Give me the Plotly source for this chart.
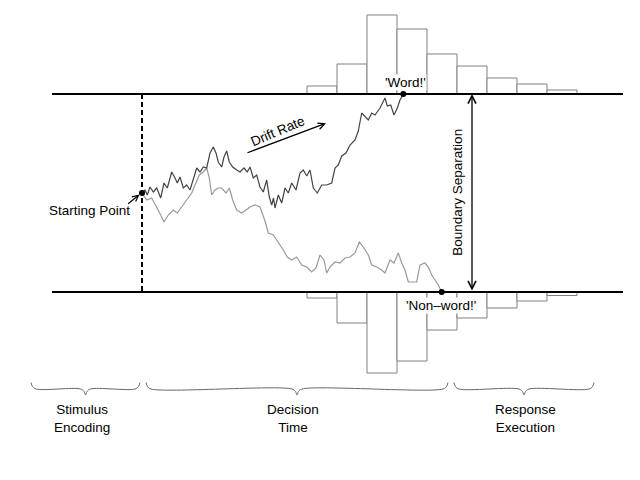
import plotly.graph_objects as go

# diffusion model sketch: time runs left to right, evidence up/down
# evidence units: upper boundary +99, lower boundary -99, start at 0
upper_bound = 99
lower_bound = -99
non_decision_t = 142
bound_x = [52, 623]

# sample path that ends at the upper ('Word!') boundary
word_t = [142, 145, 147.3, 150, 153.3, 156.7, 160.7, 164, 167.3, 171.7, 175, 177.3,
          180, 183.3, 186.7, 190, 194, 196.7, 200, 203.3, 206.7, 210, 213.3, 216,
          218.3, 221.7, 224, 226.7, 229.3, 232.7, 236.7, 240, 244, 247.3, 250, 253.3,
          256.7, 260, 263.3, 266.7, 269.3, 271.7, 273.5, 275, 278.3, 281.7, 285, 288.3,
          291.7, 296, 300, 303.3, 306.7, 310, 313.3, 317.3, 321.7, 326.7, 331.7, 335,
          338.3, 341.7, 346, 350, 355, 358.3, 361.7, 365, 368.3, 371.7, 375, 380, 385,
          387.3, 390.7, 394, 397.3, 400, 403.3]
word_ev = [0, 3, -2, 6, 1, 5, -5, 10, 5, 21, 15, 10,
           16, 5, 8, 3, 16, 25, 21, 26, 25, 40, 46, 40,
           31, 26, 36, 42, 31, 26, 23, 21, 25, 21, 26, 15,
           18, 6, 1, 13, -4, -12, -5, -15, -2, -10, 5, 0,
           10, 3, 20, 23, 17, 23, 5, 0, 8, 8, 10, 25,
           28, 37, 40, 48, 53, 62, 80, 77, 73, 80, 78, 85, 95,
           87, 88, 78, 85, 93, 99]

# sample path that ends at the lower ('Non-word!') boundary
nonword_t = [142, 146.7, 151.7, 156.7, 160.7, 164, 168.3, 173.3, 177.3, 181.7, 186.7,
             191.7, 195, 199.3, 203.3, 206.7, 209.3, 211.7, 215, 218.3, 221.7, 226,
             229.3, 232.7, 236.7, 241.7, 246, 250, 255, 260, 265, 268.3, 273.3, 278.3,
             283.3, 287.3, 291.7, 296.7, 301.7, 306.7, 311.7, 316, 320, 324, 326.7, 330,
             335, 340, 345, 350, 355, 359.3, 363.3, 368.3, 371.7, 376.7, 381.7, 385,
             390, 394, 398.3, 401.7, 405, 408.3, 413.3, 416.7, 420, 425, 428.3, 431.7,
             435, 438.3, 441.7]
nonword_ev = [0, -7, -5, -14, -22, -29, -22, -17, -20, -14, -7,
              0, 8, 18, 21, 25, 15, -2, 3, 5, 5, 0,
              5, -7, -17, -20, -17, -14, -12, -14, -28, -40, -42, -49,
              -57, -64, -67, -64, -72, -74, -79, -75, -62, -67, -80, -74,
              -69, -70, -65, -64, -60, -49, -54, -62, -72, -74, -77, -80,
              -67, -70, -60, -70, -77, -89, -89, -89, -72, -70, -74, -82,
              -87, -92, -99]

# RT histograms
bin_edges = [307, 337, 367, 397, 427, 457, 487, 517, 547, 577]
word_counts = [8, 30, 79, 65, 40, 28, 16, 10, 4]
nonword_counts = [6, 31, 81, 69, 38, 26, 16, 9, 3.5]

# phases under the diagram: (start, end, label)
phases = [(31, 140, "Stimulus<br>Encoding"),
          (146, 448, "Decision<br>Time"),
          (454, 594, "Response<br>Execution")]
phase_label_x = [82, 293, 525]

bin_centers = [(a + b) / 2 for a, b in zip(bin_edges[:-1], bin_edges[1:])]
bin_width = bin_edges[1] - bin_edges[0]

fig = go.Figure()

hist_style = dict(marker=dict(color="white", line=dict(color="#808080", width=1)),
                  width=bin_width, showlegend=False, hoverinfo="skip")
fig.add_trace(go.Bar(x=bin_centers, y=word_counts, base=upper_bound, **hist_style))
fig.add_trace(go.Bar(x=bin_centers, y=[-c for c in nonword_counts], base=lower_bound, **hist_style))

# boundaries
for b in (upper_bound, lower_bound):
    fig.add_trace(go.Scatter(x=bound_x, y=[b, b], mode="lines",
                             line=dict(color="black", width=2), showlegend=False))

# start of the decision process
fig.add_trace(go.Scatter(x=[non_decision_t, non_decision_t], y=[upper_bound, lower_bound],
                         mode="lines", line=dict(color="black", width=2, dash="5px,3px"),
                         showlegend=False))

fig.add_trace(go.Scatter(x=nonword_t, y=nonword_ev, mode="lines",
                         line=dict(color="#999999", width=1.2), showlegend=False))
fig.add_trace(go.Scatter(x=word_t, y=word_ev, mode="lines",
                         line=dict(color="#444444", width=1.2), showlegend=False))

fig.add_trace(go.Scatter(x=[word_t[0], word_t[-1], nonword_t[-1]],
                         y=[word_ev[0], word_ev[-1], nonword_ev[-1]],
                         mode="markers", marker=dict(color="black", size=6),
                         showlegend=False))

# curly braces for the phases
brace_top, brace_flat, brace_tip = -189.5, -196, -202
for x0, x1, label in phases:
    xm = (x0 + x1) / 2
    bx = [x0, x0 + 1.5, x0 + 5, xm - 5, xm - 1.5, xm, xm + 1.5, xm + 5, x1 - 5, x1 - 1.5, x1]
    by = [brace_top, brace_flat + 2.5, brace_flat, brace_flat, brace_flat - 2.5, brace_tip,
          brace_flat - 2.5, brace_flat, brace_flat, brace_flat + 2.5, brace_top]
    fig.add_trace(go.Scatter(x=bx, y=by, mode="lines", line=dict(color="#666666", width=1),
                             line_shape="spline", showlegend=False))

font = dict(family="Liberation Sans, Arial, sans-serif", size=13.5, color="black")
annotations = []
for (x0, x1, label), lx in zip(phases, phase_label_x):
    annotations.append(dict(x=lx, y=-225, text=label, showarrow=False, font=font))

annotations += [
    dict(x=132, y=-17.7, text="Starting Point", xanchor="right", showarrow=False, font=font),
    dict(x=139.5, y=-1.5, ax=126.7, ay=-12, axref="x", ayref="y", text="",
         showarrow=True, arrowhead=5, arrowsize=1, arrowwidth=1.2, arrowcolor="black"),
    dict(x=277, y=62, text="Drift Rate", textangle=-23, showarrow=False, font=font),
    dict(x=326, y=69.7, ax=246, ay=39.7, axref="x", ayref="y", text="",
         showarrow=True, arrowhead=5, arrowsize=1, arrowwidth=1.3, arrowcolor="black"),
    dict(x=472, y=upper_bound, ax=472, ay=lower_bound, axref="x", ayref="y", text="",
         showarrow=True, arrowside="end+start", arrowhead=5, startarrowhead=5,
         arrowsize=1.2, startarrowsize=1.2, arrowwidth=1.3, arrowcolor="black"),
    dict(x=456.7, y=1, text="Boundary Separation", textangle=-90, showarrow=False, font=font),
    dict(x=405, y=111, text="'Word!'", showarrow=False, font=font, bgcolor="white", borderpad=0),
    dict(x=441, y=-112, text="'Non\u2013word!'", showarrow=False, font=font, bgcolor="white",
         borderpad=0),
]

# the page puts the figure 8px in from the window corner, so shift the ranges to match
fig.update_layout(
    width=640, height=480,
    margin=dict(l=0, r=0, t=0, b=0),
    paper_bgcolor="white", plot_bgcolor="white",
    xaxis=dict(range=[8, 648], visible=False, fixedrange=True),
    yaxis=dict(range=[-295, 185], visible=False, fixedrange=True),
    annotations=annotations,
    barmode="overlay",
)

fig.write_html("out.html")
